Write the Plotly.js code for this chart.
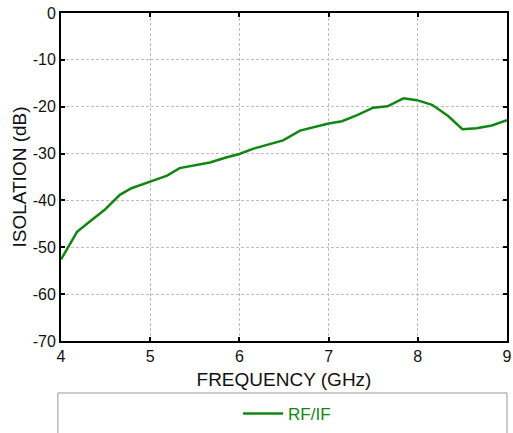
<!DOCTYPE html>
<html>
<head>
<meta charset="utf-8">
<script src="https://cdn.plot.ly/plotly-3.0.1.min.js"></script>
<style>
html,body{margin:0;padding:0;background:#fff;}
#chart{width:513px;height:433px;}
</style>
</head>
<body>
<div id="chart"></div>
<script>
// Frequency (GHz)
const freq = [4.0, 4.18, 4.33, 4.49, 4.66, 4.79, 5.0, 5.19, 5.33, 5.48, 5.67, 5.86, 6.0, 6.15, 6.31, 6.49, 6.68, 6.83, 7.0, 7.15, 7.32, 7.5, 7.66, 7.84, 7.99, 8.16, 8.34, 8.5, 8.66, 8.83, 9.0];
// RF/IF isolation (dB)
const isolation = [-52.6, -46.7, -44.4, -42.0, -38.8, -37.4, -36.0, -34.7, -33.1, -32.6, -31.9, -30.8, -30.1, -29.0, -28.1, -27.2, -25.1, -24.4, -23.6, -23.1, -21.8, -20.2, -19.9, -18.2, -18.6, -19.6, -22.0, -24.8, -24.6, -24.0, -22.9];
const seriesName = "RF/IF";
const xTicks = [4, 5, 6, 7, 8, 9];
const yTicks = [0, -10, -20, -30, -40, -50, -60, -70];

const green = "#128612";
const fontFam = "Arial, 'Liberation Sans', sans-serif";

const trace = {
  x: freq, y: isolation, type: "scatter", mode: "lines", name: seriesName,
  line: {color: green, width: 2.5}
};

const axisCommon = {
  showline: true, linecolor: "#000", linewidth: 2, mirror: "ticks",
  ticks: "inside", ticklen: 4, tickwidth: 2, tickcolor: "#000",
  showgrid: true, gridcolor: "#bdbdbd", gridwidth: 1, griddash: "3px,2px",
  zeroline: false, tickfont: {family: fontFam, size: 16, color: "#111"},
  fixedrange: true
};

const layout = {
  width: 513, height: 433,
  margin: {l: 61, r: 6, t: 13, b: 92, autoexpand: false},
  paper_bgcolor: "#fff", plot_bgcolor: "#fff",
  showlegend: true,
  xaxis: Object.assign({}, axisCommon, {
    range: [4, 9], tickvals: xTicks, ticktext: xTicks.map(String),
    title: {text: "FREQUENCY (GHz)", font: {family: fontFam, size: 19, color: "#111"}, standoff: 8}
  }),
  yaxis: Object.assign({}, axisCommon, {
    range: [-70, 0], tickvals: yTicks, ticktext: yTicks.map(String),
    title: {text: "ISOLATION (dB)", font: {family: fontFam, size: 19, color: "#111"}, standoff: 1}
  }),
  legend: {
    orientation: "h", x: 0.397, xanchor: "left", y: -0.2226, yanchor: "middle",
    bgcolor: "rgba(0,0,0,0)", borderwidth: 0, itemwidth: 40,
    font: {family: fontFam, size: 17, color: green}
  },
  shapes: [{
    type: "rect", xref: "paper", yref: "paper",
    x0: -0.007, x1: 1.0, y0: -0.6, y1: -0.1585,
    line: {color: "#999", width: 1}, fillcolor: "rgba(0,0,0,0)"
  }]
};

Plotly.newPlot("chart", [trace], layout, {displayModeBar: false, staticPlot: true});
</script>
</body>
</html>
